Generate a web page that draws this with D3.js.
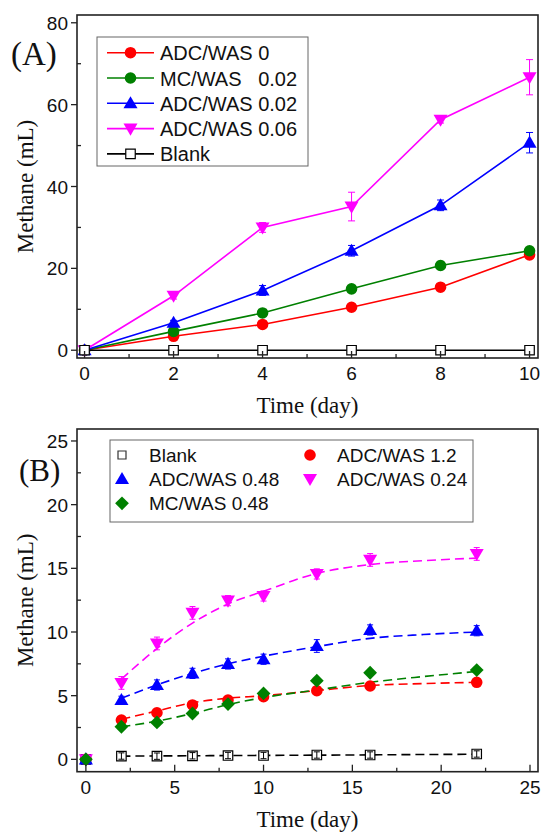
<!DOCTYPE html>
<html><head><meta charset="utf-8">
<script src="https://cdn.jsdelivr.net/npm/d3@7/dist/d3.min.js"></script>
<style>body{margin:0;background:#fff}svg{display:block}</style>
</head><body>
<svg id="c" width="542" height="833"></svg>
<script>
// ---------- Panel A data ----------
const daysA = [0, 2, 4, 6, 8, 10];
const seriesA_names = ["ADC/WAS 0", "MC/WAS   0.02", "ADC/WAS 0.02", "ADC/WAS 0.06", "Blank"];
const adc0_A   = [0, 3.4, 6.3, 10.5, 15.4, 23.3];
const mc002_A  = [0, 4.6, 9.1, 15.0, 20.7, 24.3];
const adc002_A = [0, 6.7, 14.6, 24.3, 35.4, 50.7];
const adc006_A = [0, 13.3, 30.0, 35.1, 56.3, 66.7];
const blank_A  = [0, 0, 0, 0, 0, 0];
const err_adc0_A   = [0, 0.5, 0.5, 0.6, 0.7, 0.8];
const err_mc002_A  = [0, 0.5, 0.6, 0.6, 1.0, 0.8];
const err_adc002_A = [1.0, 0.6, 1.2, 1.3, 1.3, 2.5];
const err_adc006_A = [1.0, 0.8, 1.2, 3.5, 0.8, 4.3];
const err_blank_A  = [0, 0, 0, 0, 0, 0];
const xTicksA = [0, 2, 4, 6, 8, 10];
const yTicksA = [0, 20, 40, 60, 80];

// ---------- Panel B data ----------
const daysB = [0, 2, 4, 6, 8, 10, 13, 16, 22];
const blank_B  = [0, 0.26, 0.25, 0.28, 0.3, 0.3, 0.34, 0.34, 0.42];
const adc12_B  = [0, 3.09, 3.66, 4.27, 4.66, 4.92, 5.39, 5.76, 6.05];
const adc048_B = [0, 4.66, 5.84, 6.75, 7.49, 7.86, 8.9, 10.16, 10.1];
const mc048_B  = [0, 2.56, 2.9, 3.6, 4.34, 5.18, 6.18, 6.8, 7.01];
const adc024_B = [0, 6.0, 9.1, 11.5, 12.46, 12.83, 14.56, 15.66, 16.13];
const err_blank_B  = [0, 0.25, 0.25, 0.25, 0.25, 0.25, 0.25, 0.25, 0.25];
const err_adc12_B  = [0, 0.2, 0.2, 0.2, 0.2, 0.2, 0.2, 0.2, 0.2];
const err_adc048_B = [0, 0.3, 0.4, 0.4, 0.4, 0.4, 0.5, 0.4, 0.4];
const err_mc048_B  = [0, 0.2, 0.2, 0.2, 0.2, 0.2, 0.2, 0.2, 0.2];
const err_adc024_B = [0, 0.5, 0.5, 0.5, 0.4, 0.4, 0.4, 0.5, 0.5];
// fitted (dashed) curves
const fitDays = [2, 4, 6, 8, 10, 13, 16, 19, 22];
const fit_blank_B  = [0.25, 0.27, 0.28, 0.3, 0.31, 0.33, 0.35, 0.38, 0.4];
const fit_adc12_B  = [3.15, 3.8, 4.45, 4.8, 5.0, 5.4, 5.8, 5.95, 6.05];
const fit_adc048_B = [4.8, 5.85, 6.75, 7.5, 8.1, 8.85, 9.5, 9.8, 10.0];
const fit_mc048_B  = [2.55, 3.0, 3.6, 4.3, 4.85, 5.45, 6.05, 6.5, 6.9];
const fit_adc024_B = [6.3, 8.7, 10.7, 12.2, 13.2, 14.6, 15.3, 15.6, 15.8];
const xTicksB = [0, 5, 10, 15, 20, 25];
const yTicksB = [0, 5, 10, 15, 20, 25];

const SANS = "'Liberation Sans', Arial, sans-serif";
const SERIF = "'Liberation Serif', 'Times New Roman', serif";
const svg = d3.select("#c");

function symPath(type) {
  if (type === "circle") return d3.symbol(d3.symbolCircle, 106)();
  if (type === "up") return d3.symbol(d3.symbolTriangle, 85)();
  if (type === "down") return d3.symbol(d3.symbolTriangle, 85)();
  if (type === "diamond") return d3.symbol(d3.symbolSquare, 95)();
  if (type === "square") return d3.symbol(d3.symbolSquare, 90)();
}
function symTransform(type, x, y) {
  let r = type === "down" ? 180 : (type === "diamond" ? 45 : 0);
  let dy = type === "up" ? 1 : (type === "down" ? -1 : 0);
  return `translate(${x},${y + dy}) rotate(${r})`;
}
function drawMarker(g, type, color, x, y) {
  const p = g.append("path").attr("d", symPath(type)).attr("transform", symTransform(type, x, y));
  if (type === "square") p.attr("fill", "#fff").attr("stroke", color).attr("stroke-width", 1.2);
  else p.attr("fill", color);
  return p;
}

function frameAndAxes(g, x, y, opt) {
  const [x0, x1] = x.range(), [y0, y1] = y.range();
  opt.xMinor.forEach(v => g.append("line").attr("x1", x(v)).attr("x2", x(v)).attr("y1", y0).attr("y2", y0 - 4).attr("stroke", "#222").attr("stroke-width", 1.3));
  opt.xTicks.forEach(v => g.append("line").attr("x1", x(v)).attr("x2", x(v)).attr("y1", y0).attr("y2", y0 - 7).attr("stroke", "#222").attr("stroke-width", 1.3));
  opt.yMinor.forEach(v => g.append("line").attr("x1", x0).attr("x2", x0 + 4).attr("y1", y(v)).attr("y2", y(v)).attr("stroke", "#222").attr("stroke-width", 1.3));
  opt.yTicks.forEach(v => g.append("line").attr("x1", x0 - 6).attr("x2", x0).attr("y1", y(v)).attr("y2", y(v)).attr("stroke", "#222").attr("stroke-width", 1.3));
  g.append("rect").attr("x", x0).attr("y", y1).attr("width", x1 - x0).attr("height", y0 - y1)
    .attr("fill", "none").attr("stroke", "#222").attr("stroke-width", 1.6);
  opt.xTicks.forEach(v => g.append("text").attr("x", x(v)).attr("y", y0 + 22).attr("text-anchor", "middle")
    .attr("font-family", SANS).attr("font-size", 19).attr("fill", "#111").text(v));
  opt.yTicks.forEach(v => g.append("text").attr("x", x0 - 9).attr("y", y(v) + 7).attr("text-anchor", "end")
    .attr("font-family", SANS).attr("font-size", 19).attr("fill", "#111").text(v));
  g.append("text").attr("x", (x0 + x1) / 2).attr("y", opt.xTitleY).attr("text-anchor", "middle")
    .attr("font-family", SERIF).attr("font-size", 23).attr("fill", "#111").text("Time (day)");
  g.append("text").attr("transform", `translate(${opt.yTitleX},${(y0 + y1) / 2}) rotate(-90)`)
    .attr("text-anchor", "middle").attr("font-family", SERIF).attr("font-size", 23).attr("fill", "#111").text("Methane (mL)");
  g.append("text").attr("x", opt.labX).attr("y", opt.labY).attr("font-family", SERIF).attr("font-size", opt.labSize).attr("fill", "#111").text(opt.label);
}

function errorBars(g, x, y, xs, ys, es, color, cap) {
  xs.forEach((d, i) => {
    if (!es[i]) return;
    const cx = x(d), ya = y(ys[i] + es[i]), yb = y(ys[i] - es[i]);
    g.append("line").attr("x1", cx).attr("x2", cx).attr("y1", ya).attr("y2", yb).attr("stroke", color).attr("stroke-width", 1);
    [ya, yb].forEach(yy => g.append("line").attr("x1", cx - cap).attr("x2", cx + cap).attr("y1", yy).attr("y2", yy).attr("stroke", color).attr("stroke-width", 1));
  });
}

// ================= Panel A =================
{
  const g = svg.append("g");
  const x = d3.scaleLinear().domain([-0.17, 10.19]).range([77, 538]);
  const y = d3.scaleLinear().domain([-1.9, 81.9]).range([358, 15]);
  const series = [
    {name: seriesA_names[0], vals: adc0_A,   err: err_adc0_A,   color: "#ff0000", sym: "circle"},
    {name: seriesA_names[1], vals: mc002_A,  err: err_mc002_A,  color: "#008000", sym: "circle"},
    {name: seriesA_names[2], vals: adc002_A, err: err_adc002_A, color: "#0000ff", sym: "up"},
    {name: seriesA_names[3], vals: adc006_A, err: err_adc006_A, color: "#ff00ff", sym: "down"},
    {name: seriesA_names[4], vals: blank_A,  err: err_blank_A,  color: "#000000", sym: "square"}
  ];
  const line = d3.line().x((d, i) => x(daysA[i])).y(d => y(d));
  series.forEach(s => {
    g.append("path").datum(s.vals).attr("d", line).attr("fill", "none").attr("stroke", s.color).attr("stroke-width", 1.6);
    errorBars(g, x, y, daysA, s.vals, s.err, s.color, 3.5);
    s.vals.forEach((v, i) => drawMarker(g, s.sym, s.color, x(daysA[i]), y(v)));
  });
  frameAndAxes(g, x, y, {
    xTicks: xTicksA, xMinor: [1, 3, 5, 7, 9], yTicks: yTicksA, yMinor: [10, 30, 50, 70],
    xTitleY: 413, yTitleX: 33, labX: 11, labY: 65, labSize: 33, label: "(A)"
  });
  const lg = g.append("g");
  lg.append("rect").attr("x", 97).attr("y", 37).attr("width", 211).attr("height", 129)
    .attr("fill", "#fff").attr("stroke", "#666").attr("stroke-width", 1);
  series.forEach((s, i) => {
    const cy = 52.7 + i * 25.3;
    lg.append("line").attr("x1", 107).attr("x2", 154).attr("y1", cy).attr("y2", cy).attr("stroke", s.color).attr("stroke-width", 1.6);
    drawMarker(lg, s.sym, s.color, 130.5, cy);
    lg.append("text").attr("x", 160).attr("y", cy + 7.5).attr("font-family", SANS).attr("font-size", 20)
      .attr("fill", "#111").attr("xml:space", "preserve").style("white-space", "pre").text(s.name);
  });
}

// ================= Panel B =================
{
  const g = svg.append("g");
  const x = d3.scaleLinear().domain([-0.5, 25.45]).range([77, 538]);
  const y = d3.scaleLinear().domain([-0.97, 25.94]).range([771.7, 429]);
  const series = [
    {name: "Blank",        vals: blank_B,  err: err_blank_B,  fit: fit_blank_B,  color: "#000000", sym: "square"},
    {name: "ADC/WAS 1.2",  vals: adc12_B,  err: err_adc12_B,  fit: fit_adc12_B,  color: "#ff0000", sym: "circle"},
    {name: "ADC/WAS 0.48", vals: adc048_B, err: err_adc048_B, fit: fit_adc048_B, color: "#0000ff", sym: "up"},
    {name: "ADC/WAS 0.24", vals: adc024_B, err: err_adc024_B, fit: fit_adc024_B, color: "#ff00ff", sym: "down"},
    {name: "MC/WAS 0.48",  vals: mc048_B,  err: err_mc048_B,  fit: fit_mc048_B,  color: "#008000", sym: "diamond"}
  ];
  const fitLine = d3.line().curve(d3.curveMonotoneX).x((d, i) => x(fitDays[i])).y(d => y(d));
  series.forEach(s => {
    g.append("path").datum(s.fit).attr("d", fitLine).attr("fill", "none").attr("stroke", s.color)
      .attr("stroke-width", 1.6).attr("stroke-dasharray", "9,5");
  });
  series.forEach(s => {
    s.vals.forEach((v, i) => drawMarker(g, s.sym, s.color, x(daysB[i]), y(v)));
    errorBars(g, x, y, daysB, s.vals, s.err, s.color, 3);
  });
  frameAndAxes(g, x, y, {
    xTicks: xTicksB, xMinor: [2.5, 7.5, 12.5, 17.5, 22.5], yTicks: yTicksB, yMinor: [2.5, 7.5, 12.5, 17.5, 22.5],
    xTitleY: 827, yTitleX: 33, labX: 19, labY: 481, labSize: 31, label: "(B)"
  });
  const lg = g.append("g");
  lg.append("rect").attr("x", 110).attr("y", 440).attr("width", 363).attr("height", 82)
    .attr("fill", "#fff").attr("stroke", "#666").attr("stroke-width", 1);
  const legB = [
    {s: series[0], mx: 122, tx: 149, cy: 455},
    {s: series[2], mx: 122, tx: 149, cy: 479},
    {s: series[4], mx: 122, tx: 149, cy: 503.3},
    {s: series[1], mx: 310, tx: 337, cy: 455},
    {s: series[3], mx: 310, tx: 337, cy: 479}
  ];
  legB.forEach(e => {
    const m = drawMarker(lg, e.s.sym, e.s.color, e.mx, e.cy);
    if (e.s.sym === "square") m.attr("d", d3.symbol(d3.symbolSquare, 64)()).attr("stroke", "#333");
    lg.append("text").attr("x", e.tx).attr("y", e.cy + 7).attr("font-family", SANS).attr("font-size", 19)
      .attr("fill", "#111").text(e.s.name);
  });
}
</script>
</body></html>
